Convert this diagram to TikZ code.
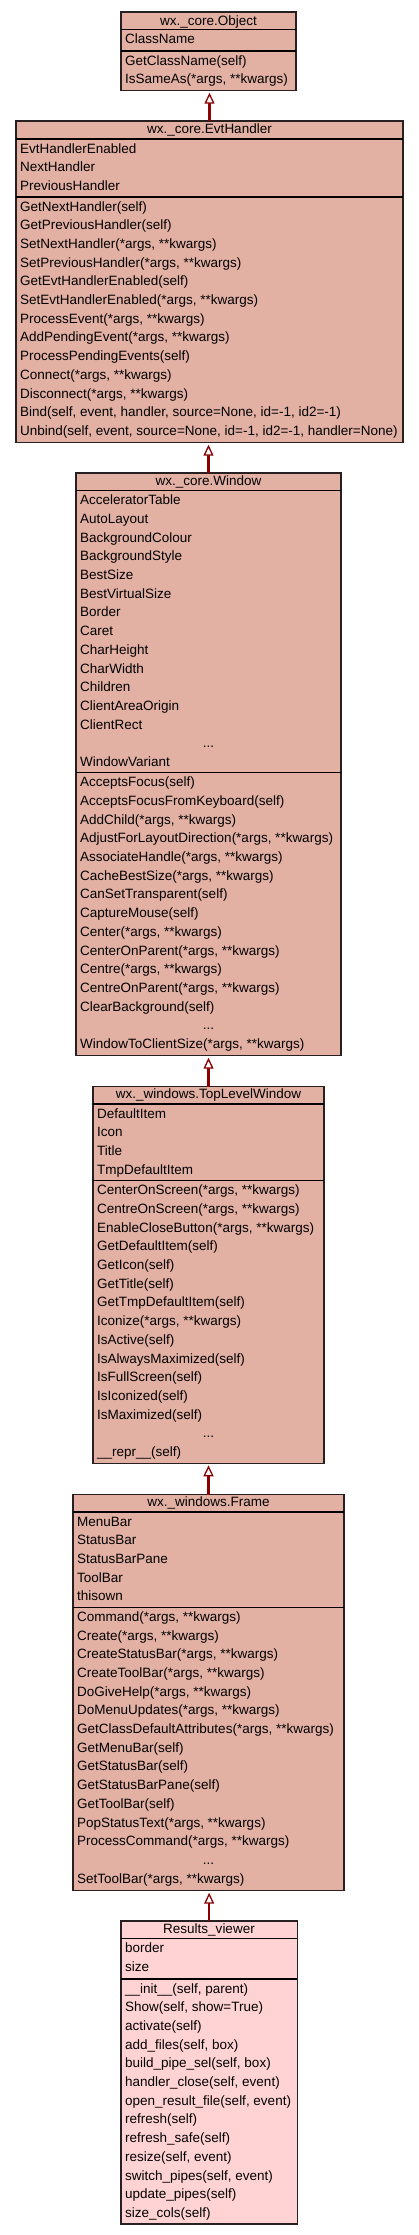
\documentclass[tikz,border=0pt]{standalone}
\usepackage{fontspec}
\setmainfont{Liberation Sans}
\usetikzlibrary{arrows.meta}
\definecolor{clsfill}{RGB}{227,176,164}
\definecolor{rvfill}{RGB}{255,211,211}
\definecolor{inhcol}{RGB}{139,0,0}
\definecolor{bordercol}{RGB}{40,32,32}
\tikzset{
  clsbox/.style={draw=bordercol, line width=1.3pt, inner sep=0pt, outer sep=0pt},
  sepline/.style={draw=black, line width=1.3pt},
  rowtxt/.style={anchor=base west, inner sep=0pt, font=\fontsize{13.5}{16}\selectfont, text=black},
  titletxt/.style={rowtxt, anchor=base},
  inh/.style={draw=inhcol, line width=2.5pt, shorten >=2pt,
    -{Triangle[open, fill=white, length=11pt, width=10pt, line width=1.3pt]}}
}
% name, L, R, T, A, S, B, fill
\newcommand\classframe[8]{%
  \node[clsbox, fill=#8, minimum width={(#3-#2)*1pt}, minimum height={(#7-#4)*1pt}, anchor=north west] (#1) at (#2,#4) {};
  \draw[sepline] (#2,#5) -- (#3,#5);
  \draw[sepline] (#2,#6) -- (#3,#6);
}
% prefix, L, sectionTop, start index, list
\newcommand\classrows[5]{%
  \foreach \t [count=\i from #4] in {#5} {%
    \node[rowtxt] (#1\i) at (#2+4, #3+14+\i*18.7-18.7) {\t};
  }%
}
% name, cx, sectionTop, index
\newcommand\dotrow[4]{%
  \node[titletxt] (#1) at (#2, #3+14+#4*18.7-18.7) {...};
}
\begin{document}
\begin{tikzpicture}[x=1pt,y=-1pt]
\useasboundingbox (0,0) rectangle (419,2235);

% wx._core.Object
\classframe{obj}{121}{296}{12}{29.5}{51}{90.7}{clsfill}
\node[titletxt] (objt) at (208.5,25) {wx.\_core.Object};
\classrows{obja}{121}{29.5}{1}{ClassName}
\classrows{objm}{121}{51}{1}{GetClassName(self), {IsSameAs(*args, **kwargs)}}

% wx._core.EvtHandler
\classframe{evt}{16}{403}{121}{139}{197}{442.7}{clsfill}
\node[titletxt] (evtt) at (209.5,133.5) {wx.\_core.EvtHandler};
\classrows{evta}{16}{139}{1}{EvtHandlerEnabled, NextHandler, PreviousHandler}
\classrows{evtm}{16}{197}{1}{GetNextHandler(self), GetPreviousHandler(self), {SetNextHandler(*args, **kwargs)}, {SetPreviousHandler(*args, **kwargs)}, GetEvtHandlerEnabled(self), {SetEvtHandlerEnabled(*args, **kwargs)}, {ProcessEvent(*args, **kwargs)}, {AddPendingEvent(*args, **kwargs)}, ProcessPendingEvents(self), {Connect(*args, **kwargs)}, {Disconnect(*args, **kwargs)}, {Bind(self, event, handler, source=None, id=-1, id2=-1)}, {Unbind(self, event, source=None, id=-1, id2=-1, handler=None)}}

% wx._core.Window
\classframe{win}{76}{341}{473}{490.7}{772.7}{1055.7}{clsfill}
\node[titletxt] (wint) at (208.5,485.5) {wx.\_core.Window};
\classrows{wina}{76}{490.7}{1}{AcceleratorTable, AutoLayout, BackgroundColour, BackgroundStyle, BestSize, BestVirtualSize, Border, Caret, CharHeight, CharWidth, Children, ClientAreaOrigin, ClientRect}
\dotrow{winad}{208.5}{490.7}{14}
\classrows{wina}{76}{490.7}{15}{WindowVariant}
\classrows{winm}{76}{772.7}{1}{AcceptsFocus(self), AcceptsFocusFromKeyboard(self), {AddChild(*args, **kwargs)}, {AdjustForLayoutDirection(*args, **kwargs)}, {AssociateHandle(*args, **kwargs)}, {CacheBestSize(*args, **kwargs)}, CanSetTransparent(self), CaptureMouse(self), {Center(*args, **kwargs)}, {CenterOnParent(*args, **kwargs)}, {Centre(*args, **kwargs)}, {CentreOnParent(*args, **kwargs)}, ClearBackground(self)}
\dotrow{winmd}{208.5}{772.7}{14}
\classrows{winm}{76}{772.7}{15}{{WindowToClientSize(*args, **kwargs)}}

% wx._windows.TopLevelWindow
\classframe{tlw}{93}{324}{1086.7}{1104}{1180.7}{1463.3}{clsfill}
\node[titletxt] (tlwt) at (208.5,1098.7) {wx.\_windows.TopLevelWindow};
\classrows{tlwa}{93}{1104}{1}{DefaultItem, Icon, Title, TmpDefaultItem}
\classrows{tlwm}{93}{1180.7}{1}{{CenterOnScreen(*args, **kwargs)}, {CentreOnScreen(*args, **kwargs)}, {EnableCloseButton(*args, **kwargs)}, GetDefaultItem(self), GetIcon(self), GetTitle(self), GetTmpDefaultItem(self), {Iconize(*args, **kwargs)}, IsActive(self), IsAlwaysMaximized(self), IsFullScreen(self), IsIconized(self), IsMaximized(self)}
\dotrow{tlwmd}{208.5}{1180.7}{14}
\classrows{tlwm}{93}{1180.7}{15}{\_\_repr\_\_(self)}

% wx._windows.Frame
\classframe{frm}{73}{344}{1494.7}{1512}{1607.3}{1890.7}{clsfill}
\node[titletxt] (frmt) at (208.5,1506.5) {wx.\_windows.Frame};
\classrows{frma}{73}{1512}{1}{MenuBar, StatusBar, StatusBarPane, ToolBar, thisown}
\classrows{frmm}{73}{1607.3}{1}{{Command(*args, **kwargs)}, {Create(*args, **kwargs)}, {CreateStatusBar(*args, **kwargs)}, {CreateToolBar(*args, **kwargs)}, {DoGiveHelp(*args, **kwargs)}, {DoMenuUpdates(*args, **kwargs)}, {GetClassDefaultAttributes(*args, **kwargs)}, GetMenuBar(self), GetStatusBar(self), GetStatusBarPane(self), GetToolBar(self), {PopStatusText(*args, **kwargs)}, {ProcessCommand(*args, **kwargs)}}
\dotrow{frmmd}{208.5}{1607.3}{14}
\classrows{frmm}{73}{1607.3}{15}{{SetToolBar(*args, **kwargs)}}

% Results_viewer
\classframe{rv}{121}{297.3}{1921}{1938.7}{1979}{2224}{rvfill}
\node[titletxt] (rvt) at (209,1933.7) {Results\_viewer};
\classrows{rva}{121}{1938.7}{1}{border, size}
\classrows{rvm}{121}{1979}{1}{{\_\_init\_\_(self, parent)}, {Show(self, show=True)}, activate(self), {add\_files(self, box)}, {build\_pipe\_sel(self, box)}, {handler\_close(self, event)}, {open\_result\_file(self, event)}, refresh(self), refresh\_safe(self), {resize(self, event)}, {switch\_pipes(self, event)}, update\_pipes(self), size\_cols(self)}

% inheritance arrows
\draw[inh] (evt.north) -- (evt.north |- obj.south);
\draw[inh] (win.north) -- (win.north |- evt.south);
\draw[inh] (tlw.north) -- (tlw.north |- win.south);
\draw[inh] (frm.north) -- (frm.north |- tlw.south);
\draw[inh] (rv.north) -- (rv.north |- frm.south);
\end{tikzpicture}
\end{document}
